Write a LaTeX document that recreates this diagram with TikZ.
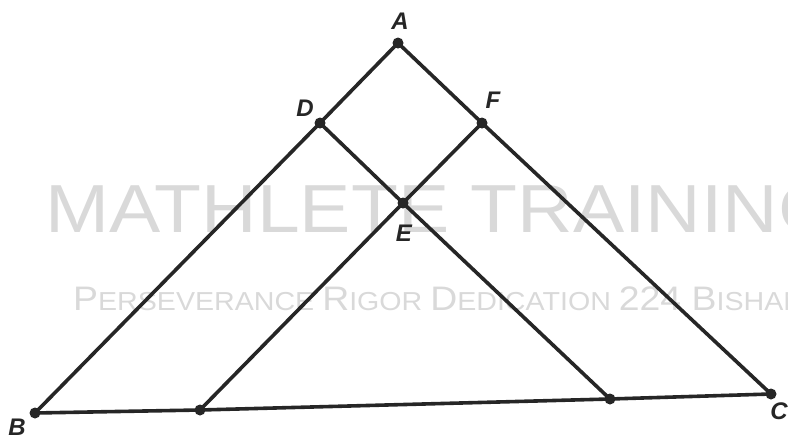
\documentclass[tikz,border=0pt]{standalone}
\usepackage{fontspec}
\setmainfont{Liberation Sans}
\definecolor{ink}{HTML}{262626}
\definecolor{wmgray}{HTML}{D9D9D9}
\newcommand{\bigc}[1]{{\fontsize{34}{34}\selectfont #1}}
\begin{document}
\begin{tikzpicture}[x=1pt,y=-1pt,
  dot/.style={circle,fill=ink,inner sep=0pt,minimum size=11pt},
  lbl/.style={font=\fontsize{24}{24}\selectfont\bfseries\itshape, text=ink, inner sep=0pt},
  seg/.style={line width=3.6pt, draw=ink, line cap=round},
  wm/.style={text=wmgray, inner sep=0pt, font=\fontsize{68}{68}\selectfont},
  wmsmall/.style={text=wmgray, inner sep=0pt, font=\fontsize{26}{26}\selectfont}]
\useasboundingbox (0,0) rectangle (788,442);
\clip (0,0) rectangle (788,442);
% watermark
\node[wm, anchor=base west, xscale=1.13] (wm1) at (45,232) {MATHLETE TRAINING};
\node[wmsmall, anchor=base west, xscale=1.1] (wm2) at (73,310) {\bigc{P}ERSEVERANCE \bigc{R}IGOR \bigc{D}EDICATION \bigc{224 B}ISHAN};
% points
\node[dot] (A) at (398,43) {};
\node[dot] (D) at (320,123) {};
\node[dot] (F) at (482,123) {};
\node[dot] (E) at (403,203) {};
\node[dot] (B) at (35,413) {};
\node[dot] (C) at (771,394) {};
\node[dot] (P) at (200,410) {};
\node[dot] (Q) at (610,399) {};
% segments
\draw[seg] (A.center) -- (D.center) -- (B.center);
\draw[seg] (A.center) -- (F.center) -- (C.center);
\draw[seg] (B.center) -- (P.center) -- (Q.center) -- (C.center);
\draw[seg] (D.center) -- (E.center) -- (Q.center);
\draw[seg] (F.center) -- (E.center) -- (P.center);
% labels
\node[lbl] (lA) at (400,21) {A};
\node[lbl] (lD) at (305,108) {D};
\node[lbl] (lF) at (493,100) {F};
\node[lbl] (lE) at (404,233) {E};
\node[lbl] (lB) at (17,427) {B};
\node[lbl] (lC) at (779,411) {C};
\end{tikzpicture}
\end{document}
